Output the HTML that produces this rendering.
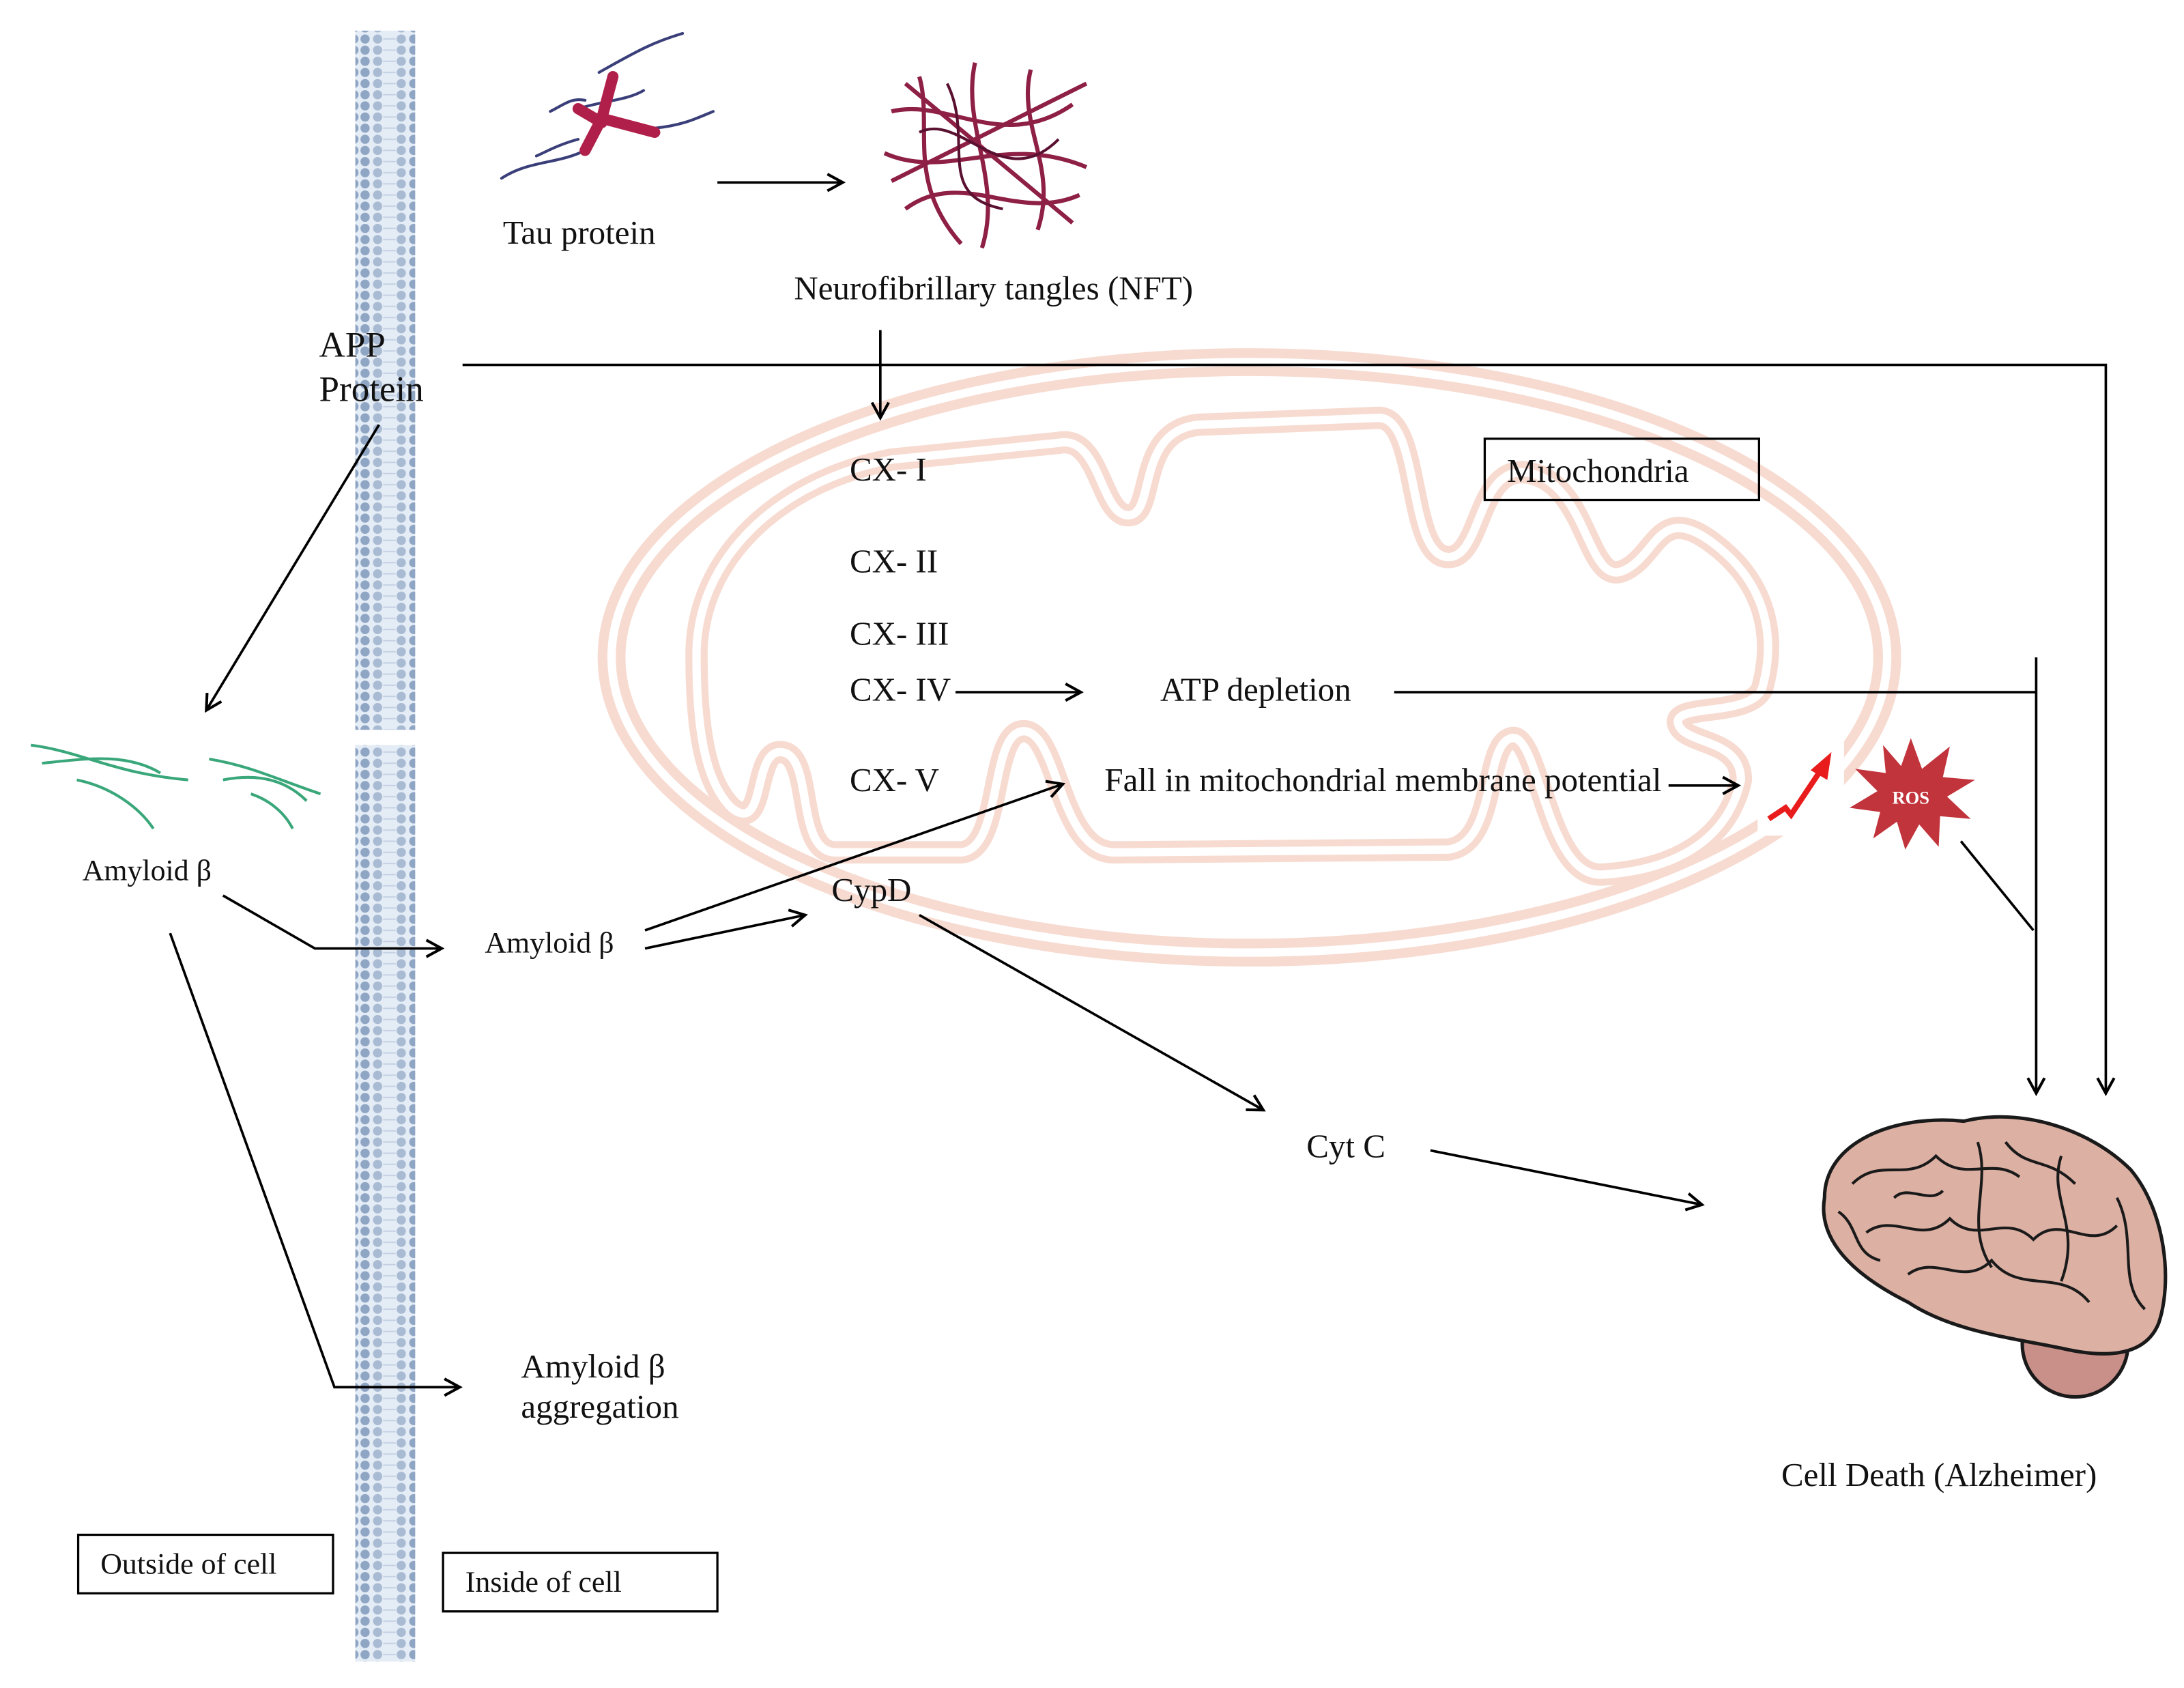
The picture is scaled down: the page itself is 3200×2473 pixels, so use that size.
<!DOCTYPE html>
<html><head><meta charset="utf-8"><style>
html,body{margin:0;padding:0;background:#fff;}
svg{display:block;}
text{font-family:"Liberation Serif",serif;fill:#111;}
</style></head><body>
<svg width="3200" height="2473" viewBox="0 0 1568 1212" xmlns="http://www.w3.org/2000/svg">
<defs>
<marker id="a" markerWidth="20" markerHeight="20" refX="12" refY="7" orient="auto" markerUnits="userSpaceOnUse">
<polyline points="1,1 12,7 1,13" fill="none" stroke="#000" stroke-width="2"/>
</marker>
<pattern id="mem" width="43" height="8" patternUnits="userSpaceOnUse">
<rect width="43" height="8" fill="#e4ecf6"/>
<circle cx="4" cy="4" r="3.3" fill="#8fa5c4"/>
<circle cx="13" cy="4" r="3.3" fill="#a9bbd3"/>
<circle cx="30" cy="4" r="3.3" fill="#a9bbd3"/>
<circle cx="39" cy="4" r="3.3" fill="#8fa5c4"/>
<line x1="17" y1="4" x2="26" y2="4" stroke="#c4d1e3" stroke-width="1"/>
</pattern>
</defs>
<rect width="1568" height="1212" fill="#fff"/>

<!-- mitochondrion -->
<g fill="none">
<ellipse cx="897" cy="472" rx="458" ry="212" stroke="#f7dbd1" stroke-width="20"/>
<ellipse cx="897" cy="472" rx="458" ry="212" stroke="#fff" stroke-width="6"/>
<path d="M500,470 C500,400 560,345 640,330 L760,318 C790,312 790,370 810,370 C830,370 815,310 860,305 L990,300 C1020,300 1010,400 1040,400 C1065,400 1060,330 1100,340 C1140,350 1140,420 1165,410 C1190,400 1190,360 1230,390 C1270,420 1275,460 1265,495 C1255,515 1200,505 1205,520 C1210,535 1250,530 1250,560 C1240,605 1200,625 1150,628 C1110,630 1105,525 1085,530 C1065,535 1075,605 1040,610 L800,612 C760,612 760,525 735,525 C710,525 720,610 690,612 L600,612 C570,612 585,540 560,540 C540,540 550,600 525,580 C505,560 500,520 500,470 Z" stroke="#f7dbd1" stroke-width="16"/>
<path d="M500,470 C500,400 560,345 640,330 L760,318 C790,312 790,370 810,370 C830,370 815,310 860,305 L990,300 C1020,300 1010,400 1040,400 C1065,400 1060,330 1100,340 C1140,350 1140,420 1165,410 C1190,400 1190,360 1230,390 C1270,420 1275,460 1265,495 C1255,515 1200,505 1205,520 C1210,535 1250,530 1250,560 C1240,605 1200,625 1150,628 C1110,630 1105,525 1085,530 C1065,535 1075,605 1040,610 L800,612 C760,612 760,525 735,525 C710,525 720,610 690,612 L600,612 C570,612 585,540 560,540 C540,540 550,600 525,580 C505,560 500,520 500,470 Z" stroke="#fff" stroke-width="6"/>
</g>
<rect x="1262" y="525" width="62" height="75" fill="#fff"/>

<!-- membrane -->
<rect x="255" y="22" width="43" height="502" fill="url(#mem)"/>
<rect x="255" y="535" width="43" height="658" fill="url(#mem)"/>

<!-- tau protein -->
<g fill="none" stroke-linecap="round">
<path d="M360,128 C380,115 400,118 420,108 M415,78 C435,72 450,72 462,65 M415,100 C400,104 390,110 385,112 M430,52 C460,35 470,30 490,24 M470,92 C490,90 500,85 512,80 M395,80 C405,75 410,70 420,72" stroke="#3a3f7a" stroke-width="2"/>
<path d="M420,108 L432,85 L440,55 M432,85 L470,95 M415,78 L432,88" stroke="#b01f4a" stroke-width="8"/>
</g>
<!-- NFT -->
<g fill="none" stroke="#8e1f45" stroke-width="3">
<path d="M640,80 C680,70 720,110 770,75 M635,110 C680,130 720,95 780,120 M650,150 C690,120 730,160 775,140 M660,55 C670,90 650,130 690,175 M700,45 C690,90 720,130 705,178 M740,50 C730,90 760,120 745,165 M640,130 L780,60 M650,60 L770,160"/>
<path d="M660,95 C690,80 720,140 760,100 M680,60 C700,100 670,140 720,150" stroke="#5a1030" stroke-width="2"/>
</g>

<!-- amyloid fibrils -->
<g fill="none" stroke="#3aa77a" stroke-width="2">
<path d="M22,535 C60,540 80,555 135,560 M30,548 C60,545 90,540 115,555 M55,560 C80,565 100,580 110,595 M150,545 C180,550 200,560 230,570 M160,560 C185,555 205,560 220,575 M180,570 C195,575 205,585 210,595"/>
</g>

<!-- texts -->
<g font-size="24">
<text x="361" y="175">Tau protein</text>
<text x="570" y="215">Neurofibrillary tangles (NFT)</text>
<text x="229" y="256" font-size="26">APP</text>
<text x="229" y="288" font-size="26">Protein</text>
<text x="610" y="345">CX- I</text>
<text x="610" y="411">CX- II</text>
<text x="610" y="463">CX- III</text>
<text x="610" y="503">CX- IV</text>
<text x="610" y="568">CX- V</text>
<text x="833" y="503">ATP depletion</text>
<text x="793" y="568">Fall in mitochondrial membrane potential</text>
<text x="1082" y="346">Mitochondria</text>
<text x="59" y="632" font-size="21.5">Amyloid β</text>
<text x="348" y="684" font-size="21.5">Amyloid β</text>
<text x="597" y="647">CypD</text>
<text x="938" y="831">Cyt C</text>
<text x="374" y="989">Amyloid β</text>
<text x="374" y="1018">aggregation</text>
<text x="1279" y="1067">Cell Death (Alzheimer)</text>
<text x="72" y="1130" font-size="21.5">Outside of cell</text>
<text x="334" y="1143" font-size="21.5">Inside of cell</text>
</g>
<g fill="none" stroke="#000" stroke-width="1.6">
<rect x="1066" y="315" width="197" height="44"/>
<rect x="56" y="1102" width="183" height="42"/>
<rect x="318" y="1115" width="197" height="42"/>
</g>

<!-- connectors -->
<g fill="none" stroke="#000" stroke-width="1.8">
<line x1="515" y1="131" x2="605" y2="131" marker-end="url(#a)"/>
<line x1="632" y1="237" x2="632" y2="300" marker-end="url(#a)"/>
<polyline points="332,262 1512,262 1512,785" marker-end="url(#a)"/>
<line x1="272" y1="305" x2="148" y2="510" marker-end="url(#a)"/>
<line x1="686" y1="497" x2="776" y2="497" marker-end="url(#a)"/>
<line x1="1001" y1="497" x2="1462" y2="497"/>
<line x1="1462" y1="472" x2="1462" y2="785" marker-end="url(#a)"/>
<line x1="1198" y1="564" x2="1248" y2="564" marker-end="url(#a)"/>
<line x1="1408" y1="604" x2="1460" y2="668"/>
<polyline points="160,643 226,681 317,681" marker-end="url(#a)"/>
<line x1="463" y1="668" x2="763" y2="563" marker-end="url(#a)"/>
<line x1="463" y1="681" x2="578" y2="657" marker-end="url(#a)"/>
<line x1="660" y1="657" x2="907" y2="797" marker-end="url(#a)"/>
<line x1="1027" y1="826" x2="1222" y2="865" marker-end="url(#a)"/>
<polyline points="122,670 240,996 330,996" marker-end="url(#a)"/>
</g>

<!-- red arrow icon -->
<polyline points="1270,588 1282,580 1286,585 1308,552" fill="none" stroke="#e81c1c" stroke-width="4"/>
<polygon points="1315,540 1300,553 1312,560" fill="#e81c1c"/>
<!-- ROS -->
<polygon points="1372,530 1380,552 1400,536 1395,558 1418,560 1398,572 1415,588 1393,586 1392,608 1378,592 1368,610 1362,590 1345,602 1350,583 1328,580 1348,568 1332,552 1354,555 1352,535 1365,550" fill="#c2343c"/>
<text x="1372" y="577" font-family="Liberation Sans,sans-serif" font-size="13" font-weight="bold" text-anchor="middle" style="fill:#fff">ROS</text>

<!-- brain -->
<g stroke="#1a1a1a" stroke-width="2.5">
<circle cx="1490" cy="965" r="38" fill="#c99089"/>
<path d="M1310,860 C1310,820 1360,800 1410,805 C1450,795 1500,810 1530,840 C1555,870 1560,920 1550,950 C1540,975 1510,975 1480,968 C1440,960 1400,955 1370,935 C1330,915 1305,890 1310,860 Z" fill="#dcb0a3"/>
</g>
<g fill="none" stroke="#1a1a1a" stroke-width="2">
<path d="M1330,850 C1350,830 1370,850 1390,830 C1410,850 1430,830 1450,845 M1340,885 C1360,870 1380,895 1400,875 C1420,895 1440,870 1460,890 C1480,870 1500,900 1520,880 M1370,915 C1390,900 1410,925 1430,905 C1450,930 1480,910 1500,935 M1420,820 C1430,850 1410,880 1430,910 M1480,830 C1470,860 1495,880 1480,920 M1520,860 C1535,890 1520,920 1540,940 M1320,870 C1335,880 1330,900 1350,905 M1440,820 C1455,840 1470,830 1490,850 M1360,860 C1370,850 1385,865 1395,855"/>
</g>
</svg>
</body></html>
